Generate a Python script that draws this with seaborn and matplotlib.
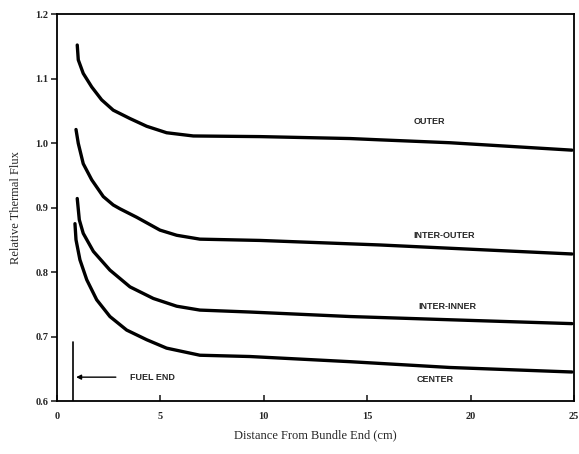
import numpy as np
import pandas as pd
import matplotlib
matplotlib.use("Agg")
import matplotlib.pyplot as plt
import seaborn as sns

# Data
outer_x = [0.98, 1.03, 1.27, 1.68, 2.16, 2.72, 3.53, 4.34, 5.30, 6.59, 9.82, 14.17, 15.6, 19.0, 24.9]
outer_y = [1.152, 1.129, 1.108, 1.087, 1.067, 1.051, 1.038, 1.026, 1.016, 1.011, 1.010, 1.007, 1.005, 1.0005, 0.989]

inter_outer_x = [0.92, 1.03, 1.27, 1.68, 2.24, 2.72, 3.05, 3.85, 4.98, 5.79, 6.91, 9.82, 15.6, 24.9]
inter_outer_y = [1.021, 0.9995, 0.968, 0.943, 0.917, 0.904, 0.898, 0.885, 0.865, 0.857, 0.851, 0.849, 0.842, 0.828]

inter_inner_x = [0.98, 1.08, 1.27, 1.76, 2.56, 3.53, 4.66, 5.79, 6.91, 9.33, 14.17, 19.0, 24.9]
inter_inner_y = [0.914, 0.881, 0.860, 0.832, 0.803, 0.777, 0.759, 0.747, 0.741, 0.738, 0.731, 0.726, 0.720]

center_x = [0.87, 0.92, 1.11, 1.44, 1.92, 2.56, 3.37, 4.34, 5.30, 6.91, 9.33, 14.17, 19.0, 24.9]
center_y = [0.875, 0.850, 0.819, 0.788, 0.757, 0.731, 0.710, 0.695, 0.682, 0.671, 0.669, 0.661, 0.652, 0.645]

series_names = ["OUTER", "INTER-OUTER", "INTER-INNER", "CENTER"]
label_pos_x = [18.0, 18.7, 18.9, 18.3]
label_pos_y = [1.033, 0.857, 0.747, 0.633]

x_ticks = [0, 5, 10, 15, 20, 25]
y_ticks = [0.6, 0.7, 0.8, 0.9, 1.0, 1.1, 1.2]
y_ticklabels = ["0.6", "0.7", "0.8", "0.9", "1.0", "1.1", "1.2"]

fuel_end_x = 0.79
fuel_end_top = 0.692
fuel_arrow_y = 0.637
fuel_arrow_tail = 2.98

sns.set_style("ticks")
plt.rcParams['font.family'] = ['Liberation Serif', 'DejaVu Serif']

frames = []
for name, xs, ys in zip(series_names,
                        [outer_x, inter_outer_x, inter_inner_x, center_x],
                        [outer_y, inter_outer_y, inter_inner_y, center_y]):
    frames.append(pd.DataFrame({"x": xs, "y": ys, "series": name}))
df = pd.concat(frames, ignore_index=True)

fig = plt.figure(figsize=(5.79, 4.54), dpi=100)
ax = fig.add_axes([0.0984, 0.1167, 0.8930, 0.8523])

sns.lineplot(data=df, x="x", y="y", units="series", estimator=None,
             color="black", lw=2.4, ax=ax, sort=False,
             solid_joinstyle="round", solid_capstyle="round")

ax.set_xlim(0, 25)
ax.set_ylim(0.6, 1.2)
ax.set_xticks(x_ticks)
ax.set_xticklabels([str(t) for t in x_ticks], fontsize=7.5, fontweight="bold")
ax.set_yticks(y_ticks)
ax.set_yticklabels(y_ticklabels, fontsize=7.5, fontweight="bold")
ax.tick_params(axis="x", direction="in", length=4, width=1.2, pad=8)
ax.tick_params(axis="y", direction="out", length=4, width=1.2, pad=2)
for s in ax.spines.values():
    s.set_visible(True)
    s.set_linewidth(1.3)
    s.set_color("black")

ax.set_xlabel("Distance From Bundle End (cm)", fontsize=9, labelpad=6)
ax.set_ylabel("Relative Thermal Flux", fontsize=9, labelpad=10)

lab_font = ["Liberation Sans Narrow", "Liberation Sans", "DejaVu Sans"]
for name, lx, ly in zip(series_names, label_pos_x, label_pos_y):
    ax.text(lx, ly, name, fontsize=6.5, ha="center", va="center",
            fontweight="bold", family=lab_font)

ax.plot([fuel_end_x, fuel_end_x], [0.6, fuel_end_top], color="black", lw=1.2)
ax.annotate("", xy=(fuel_end_x, fuel_arrow_y), xytext=(fuel_arrow_tail, fuel_arrow_y),
            arrowprops=dict(arrowstyle="-|>", color="black", lw=1.0, mutation_scale=7))
ax.text(3.53, fuel_arrow_y, "FUEL END", fontsize=6.5, ha="left", va="center",
        fontweight="bold", family=lab_font)

fig.savefig("out.png", dpi=100)
